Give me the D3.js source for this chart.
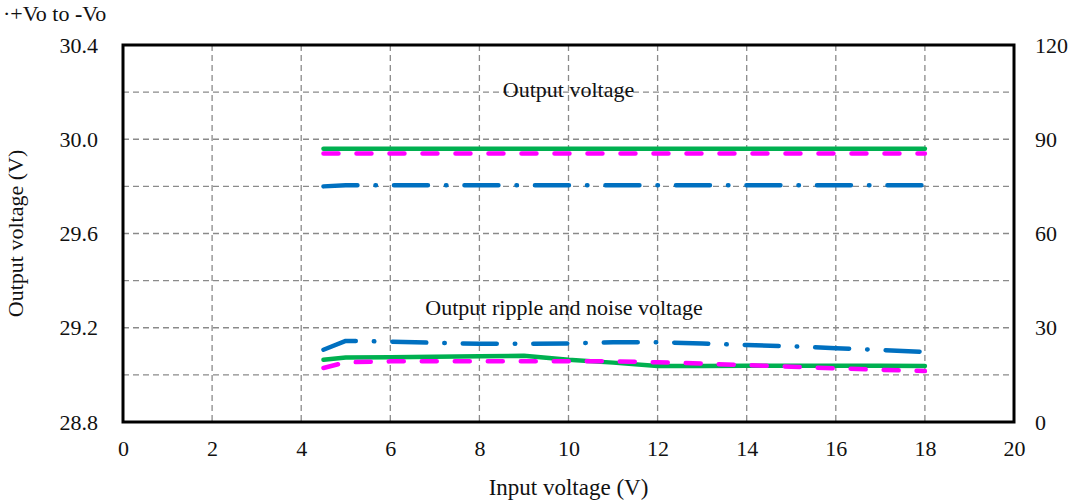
<!DOCTYPE html>
<html>
<head>
<meta charset="utf-8">
<script src="https://cdn.jsdelivr.net/npm/d3@7"></script>
<style>
body { margin: 0; background: #fff; }
svg text { font-family: "Liberation Serif", "Times New Roman", serif; fill: #111; }
</style>
</head>
<body>
<div class="chart"></div>
<script>
// input voltage points
const vin = [4.5, 5, 6, 7, 8, 9, 10, 11, 12, 13, 14, 15, 16, 17, 18];

// output voltage (left axis, V)
const voutGreen = [29.96, 29.96, 29.96, 29.96, 29.96, 29.96, 29.96, 29.96, 29.96, 29.96, 29.96, 29.96, 29.96, 29.96, 29.96];
const voutPink  = [29.94, 29.94, 29.94, 29.94, 29.94, 29.94, 29.94, 29.94, 29.94, 29.94, 29.94, 29.94, 29.94, 29.94, 29.94];
const voutBlue  = [29.80, 29.805, 29.805, 29.805, 29.805, 29.805, 29.805, 29.805, 29.805, 29.805, 29.805, 29.805, 29.805, 29.805, 29.805];

// ripple & noise (right axis, mV)
const rippleGreen = [19.8, 20.5, 20.6, 20.8, 20.9, 21.1, 19.8, 18.9, 17.8, 17.8, 17.9, 17.9, 17.9, 17.9, 17.8];
const ripplePink  = [17.2, 19.0, 19.3, 19.3, 19.3, 19.3, 19.3, 19.3, 19.0, 18.6, 18.1, 17.6, 17.1, 16.6, 16.2];
const rippleBlue  = [23.0, 25.8, 25.6, 25.2, 24.9, 24.9, 25.0, 25.4, 25.4, 25.0, 24.5, 24.1, 23.5, 22.9, 22.3];

const xTicks = [0, 2, 4, 6, 8, 10, 12, 14, 16, 18, 20];
const yLeftTicks = [28.8, 29.2, 29.6, 30.0, 30.4];
const yRightTicks = [0, 30, 60, 90, 120];

const margin = {top: 45, left: 123, bottom: 81, right: 56};
const W = 1070, H = 503;
const width = W - margin.left - margin.right;
const height = H - margin.top - margin.bottom;
const serif = '"Liberation Serif", "Times New Roman", serif';

const svg = d3.select('.chart')
    .append('svg')
    .attr('width', W)
    .attr('height', H)
    .append('g')
    .attr('transform', 'translate(' + margin.left + ',' + margin.top + ')');

const xScale = d3.scaleLinear().domain([0, 20]).range([0, width]);
const yLeft = d3.scaleLinear().domain([28.8, 30.4]).range([height, 0]);
const yRight = d3.scaleLinear().domain([0, 120]).range([height, 0]);

// grid
const grid = svg.append('g').attr('class', 'grid');
grid.selectAll('.vg')
    .data(d3.range(2, 20, 2))
    .enter().append('line')
    .attr('x1', d => xScale(d)).attr('x2', d => xScale(d))
    .attr('y1', 0).attr('y2', height)
    .attr('stroke', '#8a8a8a').attr('stroke-width', 1.3)
    .attr('stroke-dasharray', '6,4');
grid.selectAll('.hg')
    .data(d3.range(1, 8).map(i => 28.8 + i * 0.2))
    .enter().append('line')
    .attr('x1', 0).attr('x2', width)
    .attr('y1', d => yLeft(d)).attr('y2', d => yLeft(d))
    .attr('stroke', '#8a8a8a').attr('stroke-width', 1.3)
    .attr('stroke-dasharray', '6,4');

// axes
const xAxis = d3.axisBottom(xScale).tickValues(xTicks).tickSize(0).tickPadding(18).tickFormat(d3.format('d'));
const yAxisL = d3.axisLeft(yLeft).tickValues(yLeftTicks).tickSize(0).tickPadding(25).tickFormat(d3.format('.1f'));
const yAxisR = d3.axisRight(yRight).tickValues(yRightTicks).tickSize(0).tickPadding(21).tickFormat(d3.format('d'));

svg.append('g').attr('class', 'x-axis')
    .attr('transform', 'translate(0,' + height + ')')
    .call(xAxis);
svg.append('g').attr('class', 'y-axis')
    .call(yAxisL);
svg.append('g').attr('class', 'y-axis-r')
    .attr('transform', 'translate(' + width + ',0)')
    .call(yAxisR);
svg.selectAll('.domain').remove();
svg.selectAll('.x-axis, .y-axis, .y-axis-r')
    .attr('font-family', serif)
    .attr('font-size', 22);
svg.selectAll('.tick text')
    .style('font-family', serif)
    .style('font-size', '22px')
    .attr('fill', '#111');

// lines
const lineL = d3.line().x((d, i) => xScale(vin[i])).y(d => yLeft(d));
const lineR = d3.line().x((d, i) => xScale(vin[i])).y(d => yRight(d));

const styles = {
    green: {color: '#00b050', dash: null, w: 4.5},
    pink: {color: '#ff00ff', dash: '15,18', w: 4.5},
    blue: {color: '#0070c0', dash: '34,18,0.5,18', w: 4.5}
};

const series = [
    {data: voutGreen, line: lineL, s: styles.green},
    {data: voutPink, line: lineL, s: styles.pink},
    {data: voutBlue, line: lineL, s: styles.blue},
    {data: rippleGreen, line: lineR, s: styles.green},
    {data: ripplePink, line: lineR, s: styles.pink},
    {data: rippleBlue, line: lineR, s: styles.blue}
];
[3, 4, 5, 0, 1, 2].forEach(k => {
    const d = series[k];
    svg.append('path')
        .attr('d', d.line(d.data))
        .attr('fill', 'none')
        .attr('stroke', d.s.color)
        .attr('stroke-width', d.s.w)
        .attr('stroke-linecap', 'round')
        .attr('stroke-linejoin', 'round')
        .attr('stroke-dasharray', d.s.dash);
});

// frame
svg.append('rect')
    .attr('width', width).attr('height', height)
    .attr('fill', 'none').attr('stroke', '#000').attr('stroke-width', 3);

// labels
svg.append('text')
    .attr('x', xScale(10.0)).attr('y', yLeft(30.2) + 5)
    .attr('text-anchor', 'middle').style('font-size', '22px')
    .text('Output voltage');
svg.append('text')
    .attr('x', xScale(9.9)).attr('y', yLeft(29.2) - 13)
    .attr('text-anchor', 'middle').style('font-size', '22px')
    .text('Output ripple and noise voltage');

svg.append('text')
    .attr('x', xScale(10)).attr('y', height + 73)
    .attr('text-anchor', 'middle').style('font-size', '23px')
    .text('Input voltage (V)');
svg.append('text')
    .attr('transform', 'translate(' + (-100) + ',' + (height / 2) + ') rotate(-90)')
    .attr('text-anchor', 'middle').style('font-size', '22px')
    .text('Output voltage (V)');

const title = svg.append('text')
    .attr('x', -120).attr('y', -24)
    .style('font-size', '22px');
title.append('tspan').text('\u00b7+Vo to ');
title.append('tspan').style('font-weight', 'bold').text('-');
title.append('tspan').text('Vo');
</script>
</body>
</html>
